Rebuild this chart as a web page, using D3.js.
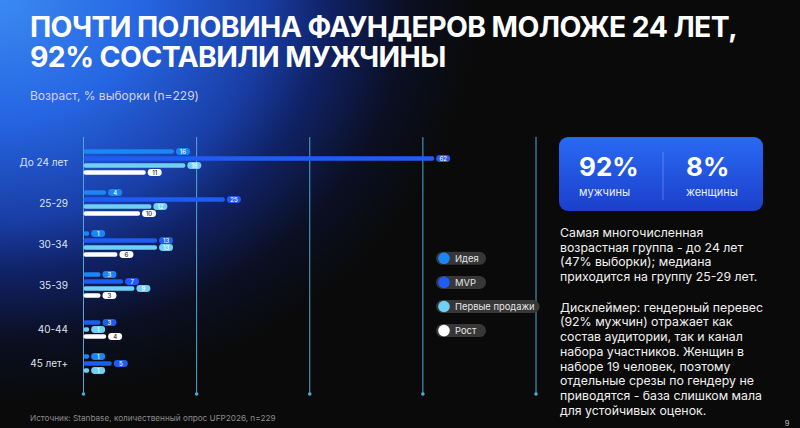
<!DOCTYPE html>
<html><head><meta charset="utf-8">
<script src="https://cdn.jsdelivr.net/npm/d3@7"></script>
<style>
html,body{margin:0;padding:0;background:#0a0a0a;}
svg{display:block;font-family:Inter,"Noto Sans",sans-serif;}
</style></head>
<body>
<svg id="c" width="800" height="428"></svg>
<script>
const groups = ["До 24 лет","25-29","30-34","35-39","40-44","45 лет+"];
const series = ["Идея","MVP","Первые продажи","Рост"];
const ideaVals  = [16, 4, 1, 3, 0, 1];
const mvpVals   = [62, 25, 13, 7, 3, 5];
const salesVals = [18, 12, 13, 9, 1, 1];
const growthVals= [11, 10, 6, 3, 4, 0];
const xTicks = [0, 20, 40, 60, 80];
const seriesColors = ["#1b86f5", "#1f5cf2", "#70cff5", "#ffffff"];
const titleLines = ["ПОЧТИ ПОЛОВИНА ФАУНДЕРОВ МОЛОЖЕ 24 ЛЕТ,", "92% СОСТАВИЛИ МУЖЧИНЫ"];
const subtitle = "Возраст, % выборки (n=229)";
const genderShares = [92, 8];
const genderLabels = ["мужчины", "женщины"];
const para1 = ["Самая многочисленная","возрастная группа - до 24 лет","(47% выборки); медиана","приходится на группу 25-29 лет."];
const para2 = ["Дисклеймер: гендерный перевес","(92% мужчин) отражает как","состав аудитории, так и канал","набора участников. Женщин в","наборе 19 человек, поэтому","отдельные срезы по гендеру не","приводятся - база слишком мала","для устойчивых оценок."];
const sourceText = "Источник: Stanbase, количественный опрос UFP2026, n=229";
const pageNum = "9";

const allVals = [ideaVals, mvpVals, salesVals, growthVals];
const svg = d3.select("#c");
const defs = svg.append("defs");

// background
const bg = defs.append("radialGradient").attr("id","bg")
  .attr("gradientUnits","userSpaceOnUse").attr("cx",0).attr("cy",0).attr("r",1)
  .attr("gradientTransform","scale(480,400)");
[[0,"#3a8af2"],[0.3,"#2665e2"],[0.55,"#193ea6"],[0.68,"#102266"],[0.85,"#0b0f22"],[1,"#0a0a0a"]]
  .forEach(([o,c])=>bg.append("stop").attr("offset",o).attr("stop-color",c));
svg.append("rect").attr("width",800).attr("height",428).attr("fill","#0a0a0a");
svg.append("rect").attr("width",800).attr("height",428).attr("fill","url(#bg)");

// title
const t = svg.append("g");
titleLines.forEach((l,i)=>{
  t.append("text").attr("x",30).attr("y",37+i*30).attr("fill","#fff")
   .attr("font-size",24).attr("font-weight",700).attr("letter-spacing",-0.6).text(l);
});
const tl = t.select("text").node().getComputedTextLength();
t.selectAll("text").attr("font-size", 24*703/tl);
svg.append("text").attr("x",30).attr("y",100).attr("fill","#d0d4e0").attr("font-size",12).text(subtitle);

// scales
const x = d3.scaleLinear().domain([0,80]).range([83.5,536]);
const y0 = d3.scaleBand().domain(groups).range([148,394]);
const y1 = d3.scaleBand().domain(series).range([0,28]);

// grid
const grid = svg.append("g");
xTicks.forEach(v=>{
  grid.append("line").attr("x1",x(v)).attr("x2",x(v)).attr("y1",137).attr("y2",394)
    .attr("stroke","#4fa9d3").attr("stroke-width",1);
  grid.append("circle").attr("cx",x(v)).attr("cy",394).attr("r",1.8).attr("fill","#4fa9d3");
});

// bars
const bh = 4.6;
const g = svg.append("g");
groups.forEach((grp,gi)=>{
  const centers = [];
  series.forEach((s,si)=>{
    const v = allVals[si][gi];
    if(!v) return;
    const cy = y0(grp)+y1(s)+y1.bandwidth()/2;
    centers.push(cy);
    g.append("rect").attr("x",x(0)).attr("y",cy-bh/2).attr("width",x(v)-x(0)).attr("height",bh)
      .attr("rx",2).attr("fill",seriesColors[si]);
    const px = x(v)+2;
    g.append("rect").attr("x",px).attr("y",cy-3.4).attr("width",14).attr("height",6.8).attr("rx",3.4)
      .attr("fill",seriesColors[si]);
    g.append("text").attr("x",px+7).attr("y",cy).attr("dy","0.35em").attr("text-anchor","middle")
      .attr("font-size",6).attr("font-weight",500).attr("fill", si===3 ? "#222" : "#fff").text(v);
  });
  g.append("text").attr("x",68).attr("y",d3.mean(centers)).attr("dy","0.35em").attr("text-anchor","end")
    .attr("font-size",10).attr("fill","#dfe3ea").text(grp);
});

// legend
const lg = svg.append("g");
series.forEach((s,i)=>{
  const cy = 258.3 + i*24.1;
  const it = lg.append("g");
  const r = it.append("rect").attr("x",436).attr("y",cy-6.5).attr("height",13).attr("rx",6.5).attr("fill","#373737");
  it.append("circle").attr("cx",444).attr("cy",cy).attr("r",5.8).attr("fill",seriesColors[i]);
  const tx = it.append("text").attr("x",455).attr("y",cy).attr("dy","0.35em").attr("font-size",9.4).attr("fill","#e6e6e6").text(s);
  const w = tx.node().getComputedTextLength();
  r.attr("width", Math.max(50, w+24));
});

// gender box
const gb = defs.append("linearGradient").attr("id","gb").attr("x1",0).attr("y1",0).attr("x2",0).attr("y2",1);
gb.append("stop").attr("offset",0).attr("stop-color","#2a6af3");
gb.append("stop").attr("offset",1).attr("stop-color","#1b3fcb");
svg.append("rect").attr("x",559).attr("y",137).attr("width",204).attr("height",74).attr("rx",9).attr("fill","url(#gb)");
svg.append("line").attr("x1",663).attr("x2",663).attr("y1",152).attr("y2",200).attr("stroke","#ffffff").attr("stroke-opacity",0.25);
const gx = [579, 686];
genderShares.forEach((v,i)=>{
  svg.append("text").attr("x",gx[i]).attr("y",176).attr("fill","#fff").attr("font-size",26).attr("font-weight",700).text(v+"%");
  svg.append("text").attr("x",gx[i]).attr("y",195.5).attr("fill","#e8eeff").attr("font-size",11).text(genderLabels[i]);
});

// paragraphs
para1.forEach((l,i)=>svg.append("text").attr("x",560).attr("y",236.8+i*14.7).attr("fill","#f0f0f0").attr("font-size",12.3).text(l));
para2.forEach((l,i)=>svg.append("text").attr("x",560).attr("y",311.6+i*14.75).attr("fill","#f0f0f0").attr("font-size",12.3).text(l));

// footer
svg.append("text").attr("x",30).attr("y",421).attr("fill","#8a8a8a").attr("font-size",8.2).text(sourceText);
svg.append("text").attr("x",787).attr("y",426).attr("fill","#bbb").attr("font-size",7.5).attr("text-anchor","middle").text(pageNum);
</script>
</body></html>
